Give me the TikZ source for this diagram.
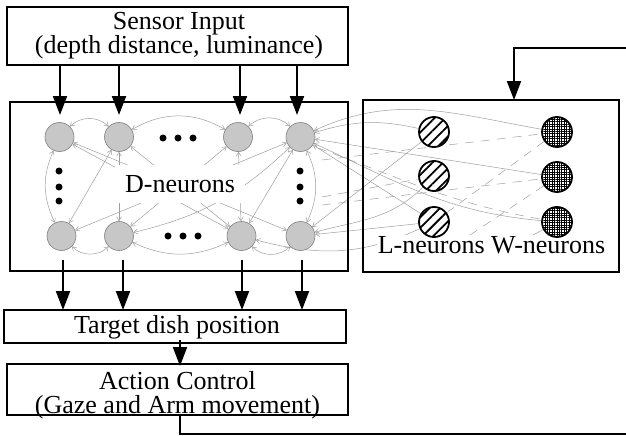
\documentclass[tikz,border=0pt]{standalone}
\usepackage{fontspec}
\setmainfont{Liberation Serif}
\usetikzlibrary{arrows.meta,patterns.meta}
\pgfdeclarelayer{edges}
\pgfdeclarelayer{labels}
\pgfsetlayers{edges,labels,main}
\begin{document}
\begin{tikzpicture}[x=1pt,y=1pt,
  box/.style={draw,line width=2pt,inner sep=0pt,outer sep=0pt},
  txt/.style={font=\fontsize{26}{23}\selectfont,inner sep=0pt,align=center},
  big/.style={line width=2pt,-{Triangle[length=19pt,width=14pt]}},
  dn/.style={circle,minimum size=29pt,inner sep=0pt,fill=black!22,draw=black!50,line width=0.6pt},
  ln/.style={circle,minimum size=30pt,inner sep=0pt,draw,line width=1.8pt,fill=white,
    postaction={pattern={Lines[angle=45,distance=7.5pt,line width=1.8pt]}}},
  wn/.style={circle,minimum size=30pt,inner sep=0pt,draw,line width=1.8pt,fill=white,
    postaction={pattern={Hatch[distance=2.4pt,line width=0.3pt]}}},
  ge/.style={draw=black!38,line width=0.5pt},
  gb/.style={ge,{Straight Barb[length=4pt,width=5pt]}-{Straight Barb[length=4pt,width=5pt]}},
  ga/.style={ge,-{Straight Barb[length=4pt,width=5pt]}},
  gd/.style={ge,dash pattern=on 9pt off 7pt},
  dot/.style={circle,fill=black,minimum size=7pt,inner sep=0pt}
]
\useasboundingbox (0,0) rectangle (626,-436);
\clip (0,0) rectangle (626,-436);

% boxes
\node[box,minimum width=341pt,minimum height=58pt] (sensor) at (177.5,-36) {};
\node[box,minimum width=338pt,minimum height=169pt] (dbox) at (179,-186.5) {};
\node[box,minimum width=256pt,minimum height=172pt] (lwbox) at (491,-186) {};
\node[box,minimum width=342pt,minimum height=33pt] (target) at (175,-326.5) {};
\node[box,minimum width=341pt,minimum height=51pt] (action) at (177.5,-389.5) {};

% box texts
\node[txt] (st) at (179,-35.5) {Sensor Input\\(depth distance, luminance)};
\node[txt,anchor=base] (tt) at (177,-333) {Target dish position};
\node[txt,font=\fontsize{26}{24.5}\selectfont] (at) at (177.5,-395.2) {Action Control\\(Gaze and Arm movement)};

% D-neurons
\node[dn] (d11) at (59.5,-137) {};
\node[dn] (d12) at (119,-137) {};
\node[dn] (d13) at (238,-137) {};
\node[dn] (d14) at (300.5,-137) {};
\node[dn] (d21) at (61.5,-236) {};
\node[dn] (d22) at (119,-236) {};
\node[dn] (d23) at (241.5,-236) {};
\node[dn] (d24) at (300.5,-236) {};

% dots
\node[dot] (t1) at (163,-138) {};
\node[dot] (t2) at (178,-138) {};
\node[dot] (t3) at (193,-138) {};
\node[dot] (b1) at (168,-236) {};
\node[dot] (b2) at (183,-236) {};
\node[dot] (b3) at (198,-236) {};
\node[dot] (l1) at (59,-171) {};
\node[dot] (l2) at (59,-187) {};
\node[dot] (l3) at (59,-201) {};
\node[dot] (r1) at (300,-171) {};
\node[dot] (r2) at (300,-187) {};
\node[dot] (r3) at (300,-201) {};

% L and W neurons
\node[ln] (L1) at (434,-132) {};
\node[ln] (L2) at (434,-176) {};
\node[ln] (L3) at (434,-222) {};
\node[wn] (W1) at (557,-132) {};
\node[wn] (W2) at (557,-177) {};
\node[wn] (W3) at (557,-222) {};

% labels (white, hide edges behind)
\begin{pgfonlayer}{labels}
\node[fill=white,font=\fontsize{26}{23}\selectfont,minimum width=130pt,minimum height=38pt,inner sep=0pt] (dlab) at (180,-184) {D-neurons};
\node[fill=white,font=\fontsize{26}{23}\selectfont,inner xsep=1pt,inner ysep=1pt,anchor=base] (lwlab) at (491.5,-253) {L-neurons W-neurons};
\end{pgfonlayer}

% coordinates
\coordinate (i1) at (60,-115);
\coordinate (i2) at (119,-115);
\coordinate (i3) at (240,-115);
\coordinate (i4) at (297,-115);
\coordinate (o1) at (63,-260);
\coordinate (o2) at (123,-260);
\coordinate (o3) at (242,-260);
\coordinate (o4) at (302,-260);
\coordinate (ta) at (180,-340);
\coordinate (fb1) at (180,-434);
\coordinate (fb2) at (640,-434);
\coordinate (fb3) at (640,-48);
\coordinate (fb4) at (514,-48);
\coordinate (rd0) at (318,-148);
\coordinate (rd1) at (322,-160);
\coordinate (rd2) at (322,-197);
\coordinate (rd3) at (322,-205);
\coordinate (h1) at (455,-245);
\coordinate (h2) at (515,-245);

% big arrows
\foreach \c in {i1,i2,i3,i4} \draw[big] (\c |- sensor.south) -- (\c);
\foreach \c in {o1,o2,o3,o4} \draw[big] (\c) -- (\c |- target.north);
\draw[big,shorten >=-2pt] (ta) -- (ta |- action.north);
\draw[big] (ta |- action.south) -- (fb1) -- (fb2) -- (fb3) -- (fb4) -- (fb4 |- lwbox.north);

% gray edges
\begin{pgfonlayer}{edges}
\draw[gb] (d11) to[bend left=45] (d12);
\draw[gb] (d12) to[bend left=30] (d13);
\draw[gb] (d13) to[bend left=45] (d14);
\draw[gb] (d11) to[bend right=25] (d21);
\draw[gb] (d14) to[bend left=25] (d24);
\draw[gb] (d21) to[bend right=45] (d22);
\draw[gb] (d22) to[bend right=25] (d23);
\draw[gb] (d23) to[bend right=45] (d24);
\draw[gb] (d12) -- (d21);
\draw[gb] (d13) -- (d23);
\draw[gb] (d14) -- (d23);
\draw[gb] (d12) -- (d22);
\draw[gb] (d11) -- (d24);
\draw[gb] (d11) -- (d23);
\draw[gb] (d21) -- (d14);
\draw[gb] (d12) -- (d23);
\draw[gb] (d13) -- (d22);
\draw[gb] (d22) to[bend right=15] (d14);

\draw[ga] (W1) to[out=170,in=25] (d14);
\draw[ga] (L1) to[bend right=15] (d14);
\draw[ga] (W2) -- (d14);
\draw[ga] (W3) to[out=175,in=-25] (d14);
\draw[ga] (L3) -- (d14);
\draw[ga] (L1) -- (d24);
\draw[ga] (L2) to[out=225,in=15] (d24);
\draw[ga] (L3) -- (d24);
\draw[ga] (L3) to[out=205,in=-15] (d23);

\draw[gd] (rd1) -- (W1);
\draw[gd] (rd2) -- (L2);
\draw[gd] (rd3) -- (W2);
\draw[gd] (rd0) to[out=-20,in=170] (W3);
\draw[gd] (W1) -- (L3);
\draw[gd] (W2) -- (h1);
\draw[ge] (W3) -- (h2);
\end{pgfonlayer}
\end{tikzpicture}
\end{document}
